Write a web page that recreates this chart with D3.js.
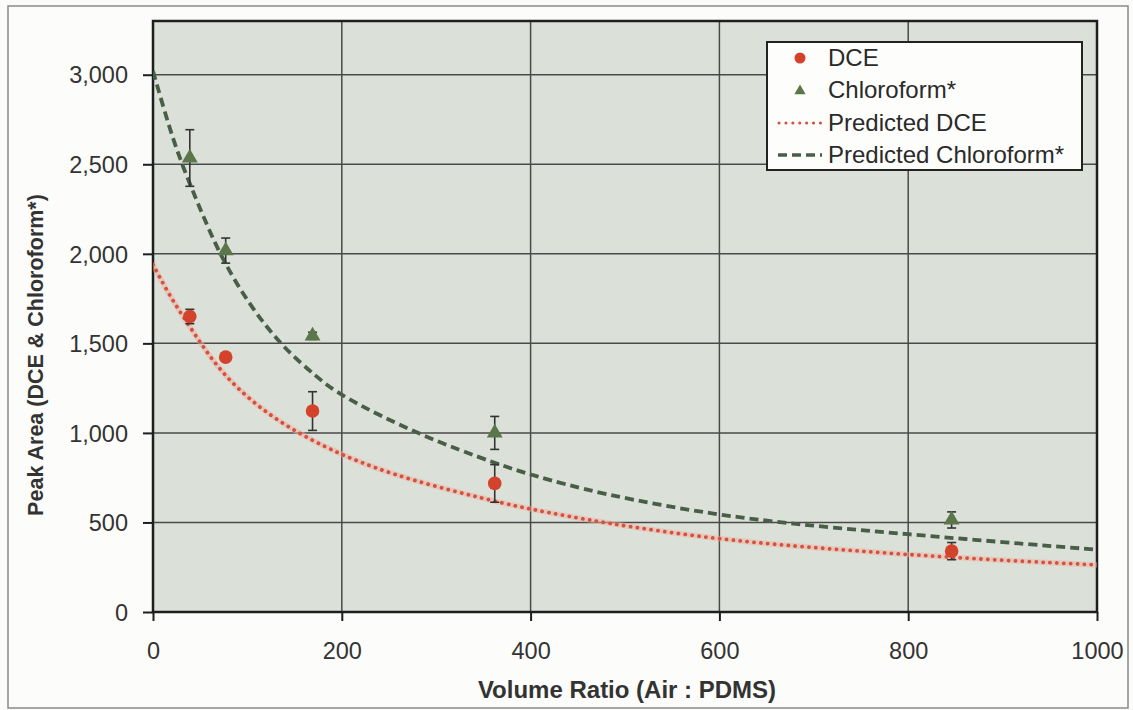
<!DOCTYPE html>
<html><head><meta charset="utf-8">
<script src="https://cdn.jsdelivr.net/npm/d3@7"></script>
<style>body{margin:0;background:#fbfbf9;} text{font-family:Arial,"Liberation Sans",sans-serif;}</style>
</head><body><svg id="c" width="1133" height="710"></svg>
<script>
const dceX = [39, 77, 169, 362, 846];
const dceY = [1650, 1423, 1122, 718, 340];
const dceErr = [40, 15, 108, 105, 48];
const chlX = [39, 77, 169, 362, 846];
const chlY = [2535, 2018, 1542, 1000, 514];
const chlErr = [158, 70, 20, 92, 45];
const predDceX = [0, 15, 32, 50, 67, 89, 117, 149, 201, 270, 368, 400, 474, 597, 707, 800, 900, 1000];
const predDceY = [1940, 1790, 1648, 1505, 1378, 1250, 1125, 1012, 870, 738, 610, 574, 500, 405, 356, 320, 288, 263];
const predChlX = [0, 18, 32, 50, 71, 103, 138, 173, 198, 283, 368, 399, 474, 597, 700, 800, 900, 1000];
const predChlY = [3020, 2690, 2480, 2250, 1990, 1706, 1475, 1315, 1208, 985, 820, 768, 658, 540, 480, 434, 390, 348];
const xTicks = [0, 200, 400, 600, 800, 1000];
const yTicks = [0, 500, 1000, 1500, 2000, 2500, 3000];
const legendLabels = ["DCE", "Chloroform*", "Predicted DCE", "Predicted Chloroform*"];
const xTitle = "Volume Ratio (Air : PDMS)";
const yTitle = "Peak Area (DCE & Chloroform*)";

const svg = d3.select("#c");
const L = 153, R = 1097, T = 21, B = 612;
const x = d3.scaleLinear().domain([0, 1000]).range([L, R]);
const y = d3.scaleLinear().domain([0, 3300]).range([B, T]);

const red = "#d3432c", green = "#5b7649", dgreen = "#495e47", redLine = "#d6503f";

// outer frame
svg.append("rect").attr("x", 8).attr("y", 6).attr("width", 1120).attr("height", 702)
  .attr("fill", "#fcfcfa").attr("stroke", "#8a8a8a").attr("stroke-width", 1.5);

// plot bg
svg.append("rect").attr("x", L).attr("y", T).attr("width", R - L).attr("height", B - T)
  .attr("fill", "#dbe0d9");

// grid
svg.append("g").selectAll("line").data(yTicks.filter(d => d > 0)).join("line")
  .attr("x1", L).attr("x2", R).attr("y1", d => y(d)).attr("y2", d => y(d))
  .attr("stroke", "#4a4a4a").attr("stroke-width", 1.5);
svg.append("g").selectAll("line").data(xTicks.filter(d => d > 0 && d < 1000)).join("line")
  .attr("y1", T).attr("y2", B).attr("x1", d => x(d)).attr("x2", d => x(d))
  .attr("stroke", "#4a4a4a").attr("stroke-width", 1.5);

// plot border
svg.append("rect").attr("x", L).attr("y", T).attr("width", R - L).attr("height", B - T)
  .attr("fill", "none").attr("stroke", "#1e1e1e").attr("stroke-width", 2.5);

// axes
const yAxis = d3.axisLeft(y).tickValues(yTicks).tickFormat(d3.format(",")).tickSize(10).tickPadding(15);
const xAxis = d3.axisBottom(x).tickValues(xTicks).tickFormat(d3.format("d")).tickSize(9).tickPadding(21);
const gy = svg.append("g").attr("transform", `translate(${L},0)`).call(yAxis);
const gx = svg.append("g").attr("transform", `translate(0,${B})`).call(xAxis);
[gy, gx].forEach(g => {
  g.select(".domain").remove();
  g.selectAll(".tick line").attr("stroke", "#1e1e1e").attr("stroke-width", 2);
  g.selectAll(".tick text").attr("fill", "#333").attr("font-size", 23.5)
    .attr("font-family", "Arial, 'Liberation Sans', sans-serif");
});
gy.selectAll(".tick text").attr("dy", "0.35em");
gx.selectAll(".tick text").attr("dy", "0.71em");

// clip
svg.append("clipPath").attr("id", "clip").append("rect")
  .attr("x", L).attr("y", T).attr("width", R - L).attr("height", B - T);

const line = d3.line().x(d => x(d[0])).y(d => y(d[1])).curve(d3.curveBasis);
const gCurves = svg.append("g").attr("clip-path", "url(#clip)");
const dcePts = predDceX.map((v, i) => [v, predDceY[i]]);
const chlPts = predChlX.map((v, i) => [v, predChlY[i]]);
gCurves.append("path").datum(dcePts)
  .attr("d", line).attr("fill", "none").attr("stroke", "#f0b0a0").attr("stroke-width", 5.5).attr("stroke-opacity", 0.5);
gCurves.append("path").datum(dcePts)
  .attr("d", line).attr("fill", "none").attr("stroke", redLine).attr("stroke-width", 3.8)
  .attr("stroke-linecap", "round").attr("stroke-dasharray", "0.1 6.8");
gCurves.append("path").datum(chlPts)
  .attr("d", line).attr("fill", "none").attr("stroke", dgreen).attr("stroke-width", 3.8)
  .attr("stroke-dasharray", "9 5");

// error bars
function errBars(xs, ys, es) {
  const g = svg.append("g");
  xs.forEach((xv, i) => {
    const cx = x(xv), y1 = y(ys[i] + es[i]), y2 = y(ys[i] - es[i]);
    g.append("line").attr("x1", cx).attr("x2", cx).attr("y1", y1).attr("y2", y2)
      .attr("stroke", "#333").attr("stroke-width", 1.6);
    [y1, y2].forEach(yy => g.append("line").attr("x1", cx - 4.5).attr("x2", cx + 4.5)
      .attr("y1", yy).attr("y2", yy).attr("stroke", "#333").attr("stroke-width", 1.6));
  });
}
errBars(chlX, chlY, chlErr);
errBars(dceX, dceY, dceErr);

// markers
svg.append("g").selectAll("circle").data(dceX.map((v, i) => [v, dceY[i]])).join("circle")
  .attr("cx", d => x(d[0])).attr("cy", d => y(d[1])).attr("r", 6.8).attr("fill", red);
const tri = d3.symbol().type(d3.symbolTriangle).size(110);
svg.append("g").selectAll("path").data(chlX.map((v, i) => [v, chlY[i]])).join("path")
  .attr("d", tri).attr("transform", d => `translate(${x(d[0])},${y(d[1])})`).attr("fill", green);

// titles
svg.append("text").attr("x", 627).attr("y", 698).attr("text-anchor", "middle")
  .attr("font-size", 24).attr("font-weight", "bold").attr("fill", "#333").text(xTitle);
svg.append("text").attr("transform", "translate(43,355) rotate(-90)").attr("text-anchor", "middle")
  .attr("font-size", 21.5).attr("font-weight", "bold").attr("fill", "#333").text(yTitle);

// legend
const lg = svg.append("g");
lg.append("rect").attr("x", 767).attr("y", 42).attr("width", 315).attr("height", 128)
  .attr("fill", "#fdfdfb").attr("stroke", "#222").attr("stroke-width", 2);
const rows = [58, 90, 123, 155];
legendLabels.forEach((t, i) => {
  lg.append("text").attr("x", 828).attr("y", rows[i]).attr("dy", "0.35em")
    .attr("font-size", 24).attr("fill", "#2a2a2a").text(t);
});
lg.append("circle").attr("cx", 800).attr("cy", rows[0]).attr("r", 5.5).attr("fill", red);
lg.append("path").attr("d", d3.symbol().type(d3.symbolTriangle).size(55))
  .attr("transform", `translate(800,${rows[1] + 1})`).attr("fill", green);
lg.append("line").attr("x1", 779).attr("x2", 821).attr("y1", rows[2]).attr("y2", rows[2])
  .attr("stroke", redLine).attr("stroke-width", 3).attr("stroke-linecap", "round").attr("stroke-dasharray", "0.1 6.8");
lg.append("line").attr("x1", 778).attr("x2", 822).attr("y1", rows[3]).attr("y2", rows[3])
  .attr("stroke", dgreen).attr("stroke-width", 3.5).attr("stroke-dasharray", "9 5");
</script></body></html>
